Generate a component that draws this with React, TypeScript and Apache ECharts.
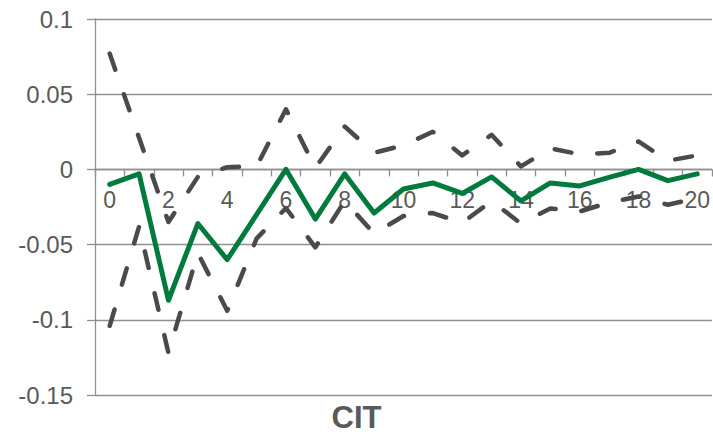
import React, { useEffect, useRef } from "react";
import * as echarts from "echarts";

// Horizon steps 0..20
const steps: string[] = Array.from({ length: 21 }, (_, i) => String(i));

// Point response
const response: number[] = [
  -0.01, -0.003, -0.087, -0.036, -0.06, -0.03, 0.0, -0.033, -0.003, -0.029,
  -0.013, -0.009, -0.016, -0.005, -0.021, -0.009, -0.011, -0.0053, 0.0, -0.0075,
  -0.003,
];

// Upper confidence band
const upperBand: number[] = [
  0.077, 0.021, -0.035, -0.005, 0.0015, 0.002, 0.04, 0.001, 0.0285, 0.011,
  0.016, 0.025, 0.0093, 0.023, 0.002, 0.014, 0.01, 0.011, 0.0186, 0.0058,
  0.0093,
];

// Lower confidence band
const lowerBand: number[] = [
  -0.104, -0.038, -0.122, -0.0556, -0.094, -0.046, -0.0257, -0.0518, -0.021, -0.0427,
  -0.031, -0.029, -0.0356, -0.021, -0.036, -0.026, -0.028, -0.022, -0.018, -0.0235,
  -0.019,
];

const chartTitle = "CIT";

const GRID = "#8f8f8f";
const TEXT = "#595959";
const GREEN = "#007a3d";
const DASH = "#4a4a4a";
const FONT = "Liberation Sans, Arial, sans-serif";

const Y_MIN = -0.15;
const Y_MAX = 0.1;
const GRID_TOP = 19;
const GRID_BOTTOM = 47;
const HEIGHT = 442;

export default function App() {
  const ref = useRef<HTMLDivElement>(null);

  useEffect(() => {
    if (!ref.current) return;
    const chart = echarts.init(ref.current, null, { renderer: "svg" });

    // The category axis sits on the zero line: shift it up from the bottom edge.
    const plotH = HEIGHT - GRID_TOP - GRID_BOTTOM;
    const zeroShift = (plotH * (0 - Y_MIN)) / (Y_MAX - Y_MIN);

    const dashedStyle = {
      color: DASH,
      width: 4.5,
      type: [17, 26] as number[],
      cap: "round" as const,
      join: "round" as const,
    };

    chart.setOption({
      animation: false,
      grid: { left: 95, right: 0, top: GRID_TOP, bottom: GRID_BOTTOM, containLabel: false },
      xAxis: {
        type: "category",
        data: steps,
        boundaryGap: true,
        position: "bottom",
        offset: -zeroShift,
        axisLine: { onZero: false, lineStyle: { color: GRID, width: 1.3 } },
        axisTick: { show: true, length: 7, alignWithLabel: false, interval: 0, lineStyle: { color: GRID, width: 1.3 } },
        axisLabel: {
          interval: 1,
          color: TEXT,
          fontSize: 23,
          fontFamily: FONT,
          margin: 19,
        },
        splitLine: { show: false },
      },
      yAxis: {
        type: "value",
        min: Y_MIN,
        max: Y_MAX,
        interval: 0.05,
        axisLine: { show: true, lineStyle: { color: GRID, width: 1.3 } },
        axisTick: { show: true, length: 8, lineStyle: { color: GRID, width: 1.3 } },
        axisLabel: {
          color: TEXT,
          fontSize: 24,
          fontFamily: FONT,
          margin: 22,
          formatter: (v: number) => String(parseFloat(v.toFixed(2))),
        },
        splitLine: { show: true, lineStyle: { color: GRID, width: 1.3 } },
      },
      series: [
        {
          type: "line",
          data: upperBand,
          symbol: "none",
          lineStyle: dashedStyle,
          z: 2,
        },
        {
          type: "line",
          data: lowerBand,
          symbol: "none",
          lineStyle: dashedStyle,
          z: 2,
        },
        {
          type: "line",
          data: response,
          symbol: "none",
          lineStyle: { color: GREEN, width: 5, join: "round", cap: "round" },
          z: 3,
        },
      ],
      graphic: [
        {
          type: "text",
          left: "center",
          top: 402,
          style: {
            text: chartTitle,
            fill: TEXT,
            font: `bold 31px ${FONT}`,
          },
        },
      ],
    });

    return () => chart.dispose();
  }, []);

  return (
    <div
      ref={ref}
      style={{ position: "fixed", left: 0, top: 0, width: 713, height: 442, background: "#fff" }}
    />
  );
}
